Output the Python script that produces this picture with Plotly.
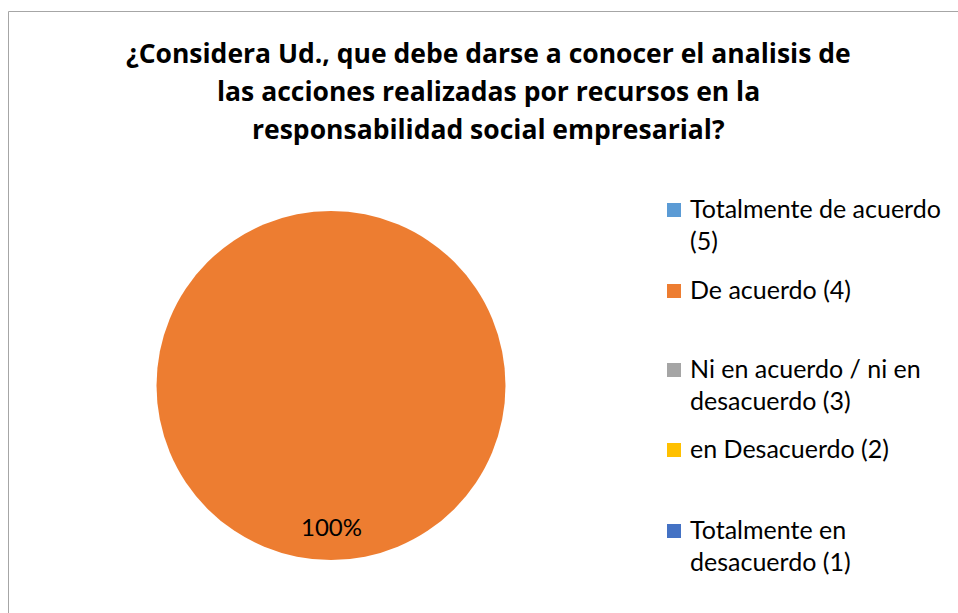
import plotly.graph_objects as go

# Survey answers (Likert scale) and their share of responses
categories = [
    "Totalmente de acuerdo\n(5)",
    "De acuerdo (4)",
    "Ni en acuerdo / ni en\ndesacuerdo (3)",
    "en Desacuerdo (2)",
    "Totalmente en\ndesacuerdo (1)",
]
values = [0, 100, 0, 0, 0]
colors = ["#5B9BD5", "#ED7D31", "#A5A5A5", "#FFC000", "#4472C4"]

title_lines = [
    "¿Considera Ud., que debe darse a conocer el analisis de",
    "las acciones realizadas por recursos en la",
    "responsabilidad social empresarial?",
]

W, H = 958, 613
FONT = "Lato"
TITLE_FONT = "Open Sans"


def px(x):
    return x / W


def py(y):
    return 1 - y / H


fig = go.Figure()
fig.add_trace(go.Pie(
    labels=[c.replace("\n", " ") for c in categories],
    values=values,
    marker=dict(colors=colors, line=dict(width=0)),
    textinfo="none",
    sort=False,
    direction="clockwise",
    hoverinfo="label+percent",
    domain=dict(x=[px(156), px(506)], y=[py(560), py(211)]),
    showlegend=False,
))

annotations = []
shapes = []

# Title, one annotation per line for even line spacing
for i, line in enumerate(title_lines):
    annotations.append(dict(
        x=px(488), y=py(53 + i * 38), xref="paper", yref="paper",
        text=f"<b>{line}</b>", showarrow=False,
        font=dict(family=TITLE_FONT, size=26.5, color="#000000"),
        xanchor="center", yanchor="middle",
    ))

# Percentage label placed in the lower part of the slice
total = sum(values)
for v in values:
    if v > 0:
        annotations.append(dict(
            x=px(331), y=py(526), xref="paper", yref="paper",
            text=f"{round(100 * v / total)}%", showarrow=False,
            font=dict(family=FONT, size=24, color="#000000"),
            xanchor="center", yanchor="middle",
        ))

# Legend drawn as colour swatches with wrapped labels
row_centers = [210, 291, 370, 450, 531]
line_gap = 32
for label, col, yc in zip(categories, colors, row_centers):
    shapes.append(dict(
        type="rect", xref="paper", yref="paper",
        x0=px(667), x1=px(681), y0=py(yc + 7), y1=py(yc - 7),
        fillcolor=col, line=dict(width=0),
    ))
    for i, line in enumerate(label.split("\n")):
        annotations.append(dict(
            x=px(688), y=py(yc - 2 + i * line_gap), xref="paper", yref="paper",
            text=line, showarrow=False,
            font=dict(family=FONT, size=25, color="#000000"),
            xanchor="left", yanchor="middle",
        ))

# Chart area border (left and top edges visible)
shapes.append(dict(type="line", xref="paper", yref="paper",
                   x0=px(8.5), x1=px(8.5), y0=py(11.5), y1=-0.1,
                   line=dict(color="#A6A6A6", width=1)))
shapes.append(dict(type="line", xref="paper", yref="paper",
                   x0=px(8.5), x1=1.1, y0=py(11.5), y1=py(11.5),
                   line=dict(color="#A6A6A6", width=1)))

fig.update_layout(
    width=W, height=H,
    margin=dict(l=0, r=0, t=0, b=0),
    paper_bgcolor="#FFFFFF",
    plot_bgcolor="#FFFFFF",
    annotations=annotations,
    shapes=shapes,
    showlegend=False,
)

fig.write_html("out.html")
